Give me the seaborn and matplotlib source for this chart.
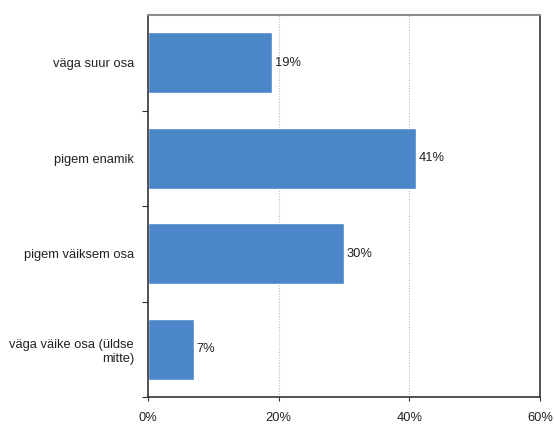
import matplotlib
matplotlib.use("Agg")
import matplotlib.pyplot as plt
import seaborn as sns
import pandas as pd
from matplotlib.ticker import FixedLocator, PercentFormatter

categories = ["väga suur osa", "pigem enamik", "pigem väiksem osa", "väga väike osa (üldse\nmitte)"]
shares = [19, 41, 30, 7]
value_labels = ["19%", "41%", "30%", "7%"]
x_ticks = [0, 20, 40, 60]

sns.set_theme(style="white")
plt.rcParams["font.family"] = ["Liberation Sans", "DejaVu Sans"]

df = pd.DataFrame({"category": categories, "share": shares})

fig = plt.figure(figsize=(5.54, 4.24), dpi=100)
ax = fig.add_axes([148 / 554, 1 - 397 / 424, (540 - 148) / 554, (397 - 15) / 424])

sns.barplot(data=df, x="share", y="category", color="#4A86C8", width=0.64,
            saturation=1, ax=ax, orient="h")

ax.bar_label(ax.containers[0], labels=value_labels, padding=2, fontsize=9.3, color="#222222")

ax.set_xlim(0, 60)
ax.set_ylim(3.5, -0.5)
ax.set_xticks(x_ticks)
ax.xaxis.set_major_formatter(PercentFormatter(decimals=0))
ax.set_xlabel("")
ax.set_ylabel("")

for x in x_ticks[1:-1]:
    ax.axvline(x, color="#BBBBBB", linestyle=(0, (1, 1.5)), linewidth=0.8, zorder=0)

ax.yaxis.set_minor_locator(FixedLocator([0.5, 1.5, 2.5, 3.5]))
ax.tick_params(axis="y", which="major", length=0, pad=10, labelsize=9.3, labelcolor="#222222")
ax.tick_params(axis="y", which="minor", length=4, width=0.8, color="#333333", direction="out", left=True)
ax.tick_params(axis="x", which="major", length=3, width=0.8, color="#333333", direction="out",
               bottom=True, pad=8, labelsize=9.3, labelcolor="#222222")
for lbl in ax.get_yticklabels():
    lbl.set_multialignment("right")

for side in ["left", "bottom", "right"]:
    ax.spines[side].set_color("#333333")
    ax.spines[side].set_linewidth(1.2)
ax.spines["top"].set_color("#8C8C8C")
ax.spines["top"].set_linewidth(1.5)

fig.savefig("out.png", dpi=100)
